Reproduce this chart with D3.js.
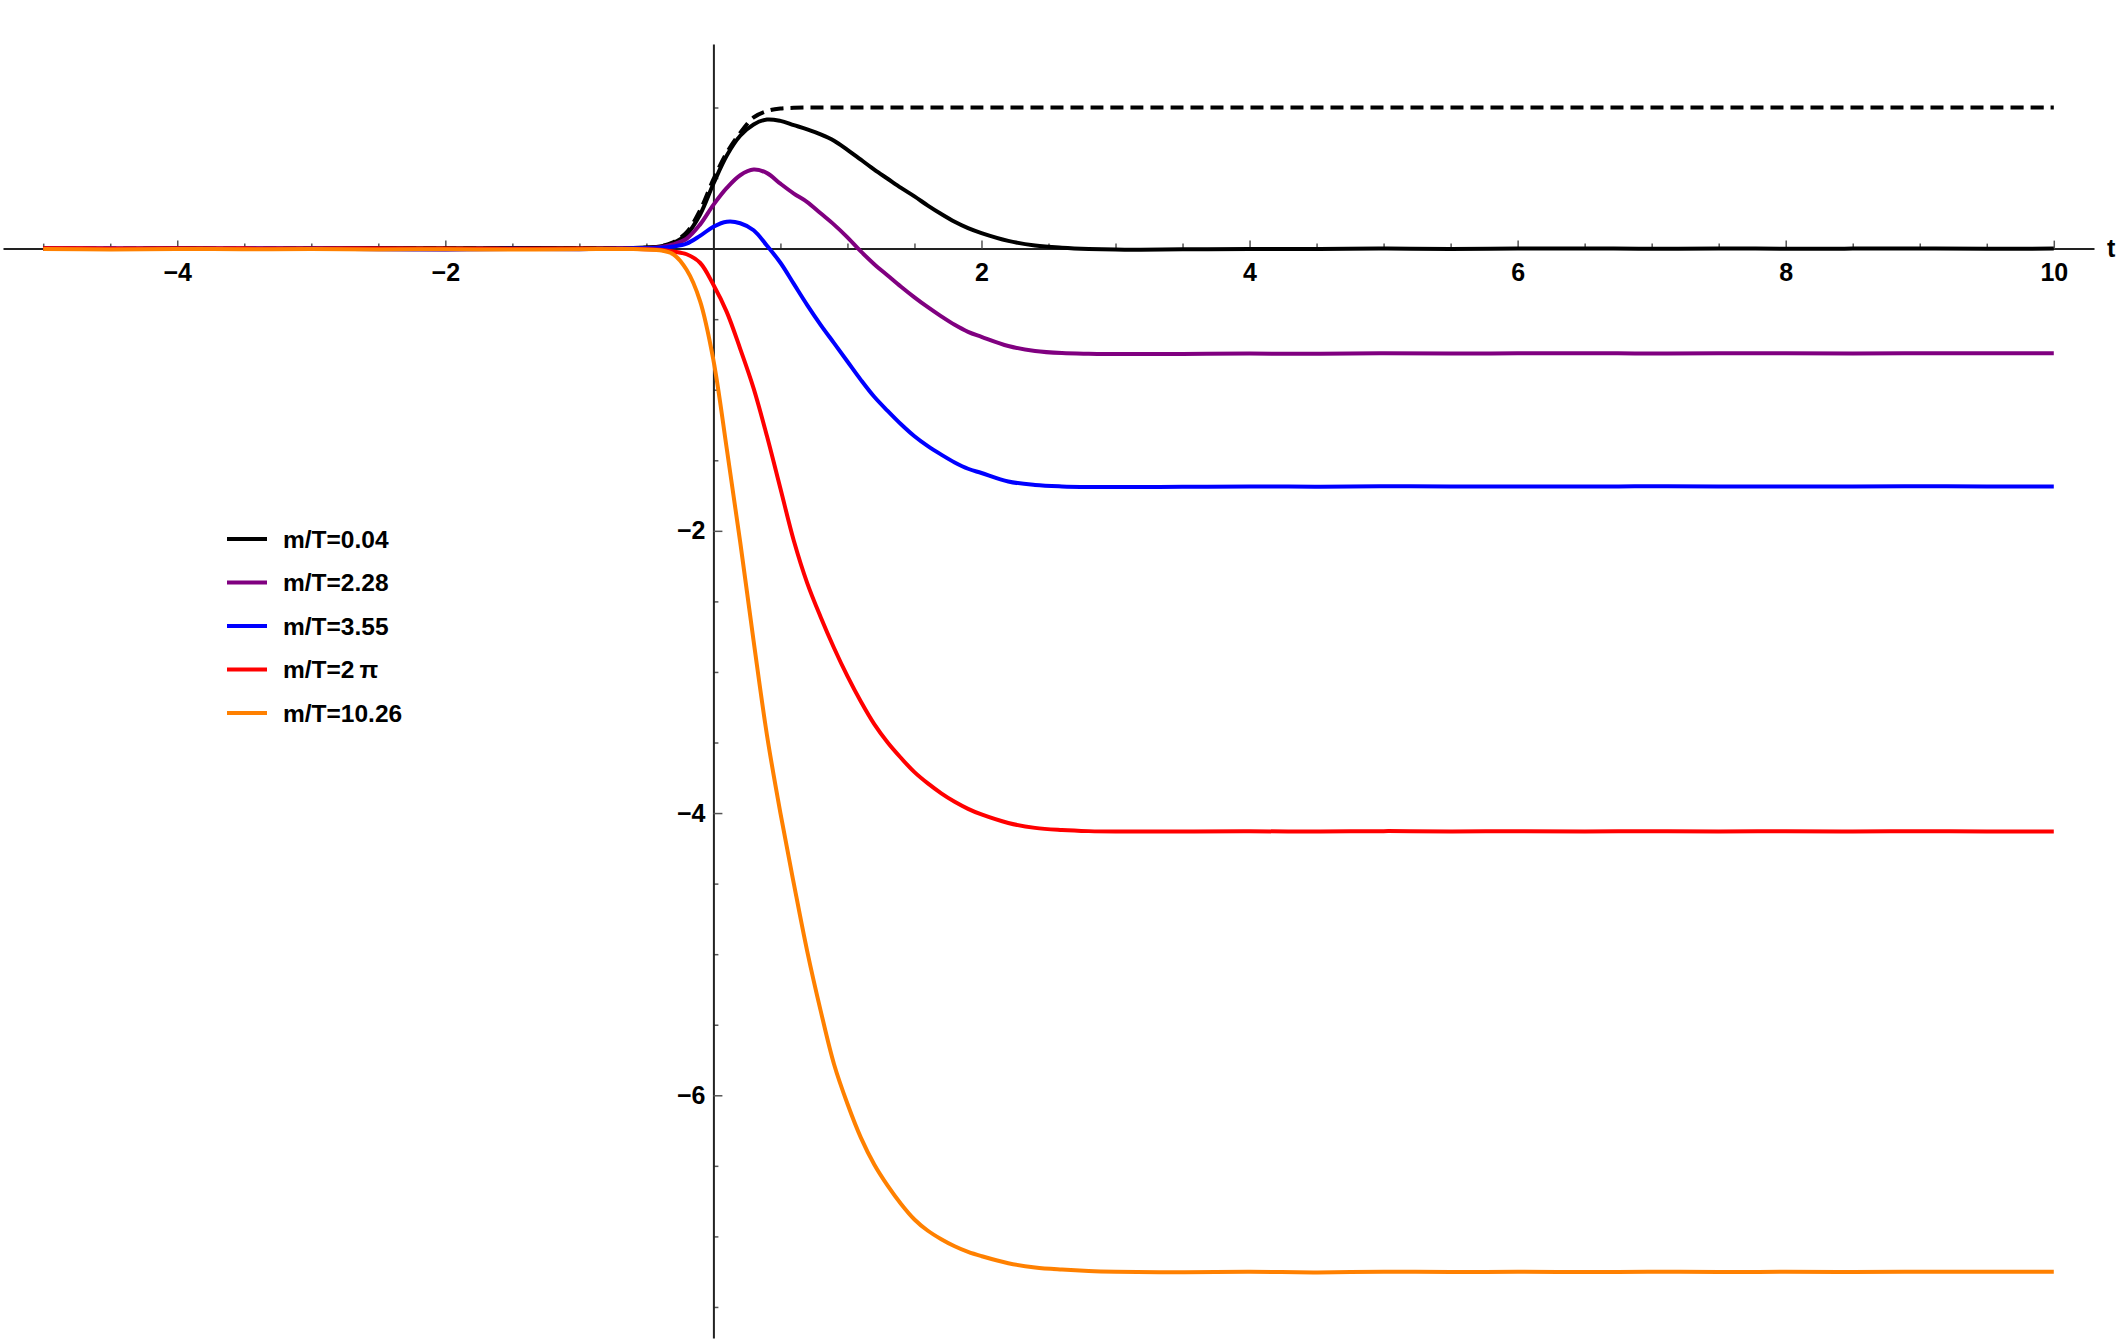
<!DOCTYPE html>
<html>
<head>
<meta charset="utf-8">
<script src="https://cdn.jsdelivr.net/npm/d3@7"></script>
<style>
  body { margin: 0; background: #fff; }
  svg { display: block; font-family: "Liberation Sans", Arial, sans-serif; }
</style>
</head>
<body>
<div id="chart"></div>
<script>
// sample times (shared by every curve)
const tVals = [
  -5, -4.5, -4, -3.5, -3, -2.5, -2, -1.5, -1,
  -0.6, -0.4, -0.3, -0.2, -0.1,
  0, 0.1, 0.2, 0.3, 0.4, 0.5, 0.6, 0.7, 0.8, 0.9, 1.0,
  1.1, 1.2, 1.3, 1.4, 1.5, 1.6, 1.7, 1.8, 1.9, 2.0,
  2.2, 2.4, 2.6, 2.8, 3.0,
  3.5, 4, 4.5, 5, 5.5, 6, 6.5, 7, 7.5, 8, 8.5, 9, 9.5, 10
];

// dashed reference curve
const refCurve = [
  0, 0, 0, 0, 0, 0, 0, 0, 0.001,
  0.004, 0.016, 0.045, 0.115, 0.27,
  0.49, 0.68, 0.82, 0.93, 0.975, 0.993, 0.998, 1, 1, 1, 1,
  1, 1, 1, 1, 1, 1, 1, 1, 1, 1,
  1, 1, 1, 1, 1,
  1, 1, 1, 1, 1, 1, 1, 1, 1, 1, 1, 1, 1, 1
];

const m004 = [
  0.004, -0.002, 0.004, -0.001, 0.003, 0.005, 0.002, 0.004, 0.003,
  0.005, 0.015, 0.04, 0.10, 0.24,
  0.46, 0.66, 0.80, 0.88, 0.915, 0.905, 0.875, 0.845, 0.81, 0.765, 0.70,
  0.63, 0.56, 0.495, 0.43, 0.37, 0.305, 0.245, 0.19, 0.145, 0.11,
  0.055, 0.022, 0.006, -0.003, -0.007,
  -0.005, -0.002, -0.003, 0.0, -0.002, 0.0, 0.001, -0.001, 0.001, -0.001, 0.0, 0.001, -0.001, 0.0
];

const m228 = [
  0.002, 0.0, 0.003, -0.002, 0.002, 0.0, -0.004, 0.001, -0.003,
  0.002, 0.01, 0.03, 0.07, 0.17,
  0.31, 0.43, 0.52, 0.56, 0.535, 0.46, 0.39, 0.33, 0.25, 0.17, 0.08,
  -0.02, -0.11, -0.19, -0.27, -0.345, -0.415, -0.48, -0.54, -0.59, -0.625,
  -0.69, -0.725, -0.74, -0.745, -0.747,
  -0.746, -0.744, -0.745, -0.742, -0.743, -0.742, -0.741, -0.743, -0.742, -0.742, -0.743, -0.741, -0.742, -0.742
];

const m355 = [
  -0.002, 0.001, -0.003, 0.002, -0.002, -0.004, -0.006, -0.002, -0.004,
  0.001, 0.006, 0.015, 0.035, 0.09,
  0.155, 0.19, 0.18, 0.13, 0.02, -0.10, -0.25, -0.40, -0.54, -0.67, -0.80,
  -0.93, -1.05, -1.15, -1.245, -1.33, -1.40, -1.46, -1.515, -1.56, -1.59,
  -1.65, -1.675, -1.685, -1.689, -1.69,
  -1.688, -1.685, -1.687, -1.684, -1.686, -1.685, -1.686, -1.684, -1.685, -1.685, -1.686, -1.684, -1.685, -1.685
];

const m2pi = [
  0.003, 0.001, 0.0, 0.002, -0.001, 0.001, 0.0, -0.002, 0.0,
  -0.002, -0.008, -0.02, -0.04, -0.10,
  -0.256, -0.45, -0.71, -0.99, -1.33, -1.70, -2.07, -2.37, -2.61, -2.83, -3.03,
  -3.21, -3.37, -3.50, -3.61, -3.71, -3.79, -3.86, -3.92, -3.97, -4.01,
  -4.07, -4.105, -4.12, -4.128, -4.131,
  -4.13, -4.129, -4.131, -4.128, -4.13, -4.129, -4.13, -4.129, -4.13, -4.129, -4.13, -4.129, -4.13, -4.13
];

const m1026 = [
  -0.003, -0.006, -0.002, -0.005, -0.003, -0.006, -0.004, -0.007, -0.004,
  -0.003, -0.012, -0.04, -0.15, -0.37,
  -0.79, -1.42, -2.08, -2.78, -3.45, -4.0, -4.5, -4.98, -5.40, -5.78, -6.06,
  -6.30, -6.49, -6.64, -6.77, -6.88, -6.96, -7.02, -7.07, -7.11, -7.14,
  -7.19, -7.22, -7.235, -7.245, -7.25,
  -7.254, -7.251, -7.255, -7.25, -7.253, -7.251, -7.253, -7.25, -7.252, -7.251, -7.252, -7.25, -7.251, -7.25
];

const seriesLabels = ["m/T=0.04", "m/T=2.28", "m/T=3.55", "m/T=2\u2009\u03c0", "m/T=10.26"];
const seriesValues = [m004, m228, m355, m2pi, m1026];
const seriesColors = ["#000000", "#800080", "#0000ff", "#ff0000", "#ff8000"];

const xLabelTicks = [-4, -2, 2, 4, 6, 8, 10];
const yLabelTicks = [-2, -4, -6];

(function () {
    const W = 2121, H = 1340;

    const svg = d3.select("#chart")
        .append("svg")
        .attr("width", W)
        .attr("height", H);

    // scales (axis line spans the full range)
    const x = d3.scaleLinear().domain([-5.3, 10.3]).range([3, 2094]);
    const y = d3.scaleLinear().domain([-7.72, 1.45]).range([1338, 44]);

    // minor ticks every 0.5, skipping the origin and the labelled ones
    const xMinor = d3.range(-10, 21).map(i => i / 2).filter(v => v !== 0 && v % 2 !== 0);
    const yMinor = d3.range(-15, 3).map(i => i / 2).filter(v => v !== 0 && v % 2 !== 0);

    const fmt = d => d3.format("d")(d).replace("-", "\u2212");

    // x axis
    const xAxisG = svg.append("g")
        .attr("transform", `translate(0,${y(0)})`);

    xAxisG.append("g")
        .call(d3.axisBottom(x).tickValues(xMinor).tickSize(-5).tickSizeOuter(0).tickFormat(""))
        .call(g => g.select(".domain").remove());

    xAxisG.append("g")
        .call(d3.axisBottom(x).tickValues(xLabelTicks).tickSize(-8).tickSizeOuter(0)
            .tickPadding(15).tickFormat(fmt))
        .call(g => g.select(".domain").attr("stroke", "#222").attr("stroke-width", 2));

    // y axis
    const yAxisG = svg.append("g")
        .attr("transform", `translate(${x(0)},0)`);

    yAxisG.append("g")
        .call(d3.axisLeft(y).tickValues(yMinor).tickSize(-5).tickSizeOuter(0).tickFormat(""))
        .call(g => g.select(".domain").remove());

    yAxisG.append("g")
        .call(d3.axisLeft(y).tickValues(yLabelTicks).tickSize(-9).tickSizeOuter(0)
            .tickPadding(8).tickFormat(fmt))
        .call(g => g.select(".domain").attr("stroke", "#222").attr("stroke-width", 2));

    svg.selectAll(".tick line").attr("stroke", "#555").attr("stroke-width", 1.5);
    svg.selectAll(".tick text")
        .attr("font-size", "25px")
        .attr("font-weight", "bold")
        .attr("font-family", "'Liberation Sans', Arial, sans-serif")
        .attr("fill", "#000");

    // axis name
    svg.append("text")
        .attr("x", 2107)
        .attr("y", y(0))
        .attr("dy", "0.35em")
        .attr("font-size", "25px")
        .attr("font-weight", "bold")
        .text("t");

    const line = d3.line()
        .x((d, i) => x(tVals[i]))
        .y(d => y(d))
        .curve(d3.curveCatmullRom.alpha(0.5));

    // dashed reference
    svg.append("path")
        .datum(refCurve)
        .attr("fill", "none")
        .attr("stroke", "#000")
        .attr("stroke-width", 4)
        .attr("stroke-dasharray", "13,7")
        .attr("d", line);

    // the five curves
    svg.append("g")
        .selectAll("path")
        .data(seriesValues)
        .enter()
        .append("path")
        .attr("fill", "none")
        .attr("stroke", (d, i) => seriesColors[i])
        .attr("stroke-width", 4)
        .attr("stroke-linejoin", "round")
        .attr("d", line);

    // legend
    const legend = svg.append("g")
        .attr("transform", "translate(227,539)");

    legend.selectAll("g")
        .data(seriesLabels)
        .enter()
        .append("g")
        .attr("transform", (d, i) => `translate(0,${i * 43.5})`)
        .call(g => {
            g.append("line")
                .attr("x1", 0)
                .attr("x2", 40)
                .attr("stroke", (d, i) => seriesColors[i])
                .attr("stroke-width", 4);
            g.append("text")
                .attr("x", 56)
                .attr("dy", "0.36em")
                .attr("font-size", "24.5px")
                .attr("font-weight", "bold")
                .text(d => d);
        });
})();
</script>
</body>
</html>
